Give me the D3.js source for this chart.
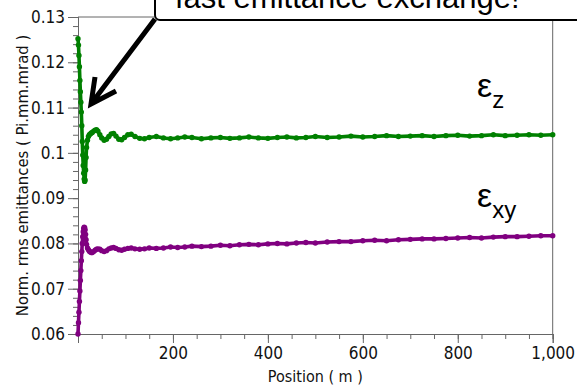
<!DOCTYPE html>
<html lang="en">
  <head>
    <meta charset="UTF-8">
    <title>Norm. rms emittances</title>
    <script src="https://d3js.org/d3.v7.min.js"></script>
    <style>
      body { margin: 0; background: #fff; }
      svg text { font-family: "DejaVu Sans Condensed", "Liberation Sans", sans-serif; }
    </style>
  </head>
  <body>

<script>
  // position along the linac (m)
  const positions = [
    0, 1, 2, 3, 4, 5, 6, 7, 8, 9, 10, 11, 12, 13, 14, 15, 16, 17, 18, 20,
    22, 24, 26, 28, 30, 33, 36, 39, 42, 46, 50, 55, 60, 65, 70, 75, 80, 86, 92, 98,
    105, 112, 120, 130, 140, 150, 165, 180, 195, 210, 225, 240, 260, 280, 300, 320, 340, 360, 380, 400,
    420, 440, 460, 480, 500, 525, 550, 575, 600, 625, 650, 675, 700, 725, 750, 775, 800, 825, 850, 875,
    900, 925, 950, 975, 1000
  ];

  // longitudinal emittance
  const emitZ = [
    0.1252, 0.1238, 0.1215, 0.1190, 0.1160, 0.1135, 0.1112, 0.1090, 0.1060, 0.1025,
    0.0995, 0.0972, 0.0955, 0.0942, 0.0937, 0.0940, 0.0962, 0.0990, 0.1012, 0.1028,
    0.1036, 0.1040, 0.1042, 0.1044, 0.1045, 0.1048, 0.1050, 0.1051, 0.1048, 0.1040,
    0.1033, 0.1028, 0.1030, 0.1036, 0.1042, 0.1043, 0.1037, 0.1030, 0.1029, 0.1034,
    0.1040, 0.1041, 0.1036, 0.1032, 0.1031, 0.1034, 0.1036, 0.1033, 0.1031, 0.1033,
    0.1035, 0.1034, 0.1031, 0.1033, 0.1034, 0.1032, 0.1033, 0.1035, 0.1033, 0.1032,
    0.1034, 0.1035, 0.1033, 0.1034, 0.1036, 0.1034, 0.1035, 0.1037, 0.1035, 0.1036,
    0.1038, 0.1036, 0.1037, 0.1038, 0.1036, 0.1038, 0.1039, 0.1037, 0.1038, 0.1040,
    0.1038, 0.1039, 0.1040, 0.1039, 0.1040
  ];

  // transverse emittance
  const emitXY = [
    0.0600, 0.0625, 0.0648, 0.0672, 0.0695, 0.0718, 0.0740, 0.0762, 0.0782, 0.0800,
    0.0815, 0.0826, 0.0833, 0.0836, 0.0835, 0.0830, 0.0820, 0.0808, 0.0798, 0.0790,
    0.0786, 0.0783, 0.0781, 0.0780, 0.0780, 0.0782, 0.0785, 0.0787, 0.0788, 0.0787,
    0.0784, 0.0782, 0.0784, 0.0788, 0.0790, 0.0791, 0.0789, 0.0786, 0.0785, 0.0787,
    0.0789, 0.0790, 0.0788, 0.0787, 0.0788, 0.0790, 0.0789, 0.0790, 0.0792, 0.0791,
    0.0792, 0.0794, 0.0793, 0.0794, 0.0796, 0.0795, 0.0797, 0.0798, 0.0797, 0.0799,
    0.0800, 0.0799, 0.0801, 0.0802, 0.0801, 0.0803, 0.0804, 0.0804, 0.0806, 0.0807,
    0.0806, 0.0808, 0.0809, 0.0810, 0.0810, 0.0811, 0.0812, 0.0813, 0.0812, 0.0814,
    0.0815, 0.0815, 0.0816, 0.0817, 0.0817
  ];

  const xTicks = [200, 400, 600, 800, 1000];
  const xTickLabels = ["200", "400", "600", "800", "1,000"];
  const yTicks = [0.06, 0.07, 0.08, 0.09, 0.10, 0.11, 0.12, 0.13];
  const yTickLabels = ["0.06", "0.07", "0.08", "0.09", "0.1", "0.11", "0.12", "0.13"];

  const w = 577;
  const h = 385;
  const plotLeft = 78, plotRight = 552.7, plotTop = 17, plotBottom = 334;
  const axisColor = "#666";

  const xScale = d3.scaleLinear().domain([0, 1000]).range([plotLeft, plotRight]);
  const yScale = d3.scaleLinear().domain([0.06, 0.13]).range([plotBottom, plotTop]);

  const svg = d3.select("body")
                .append("svg")
                .attr("width", w)
                .attr("height", h);

  // frame top and right
  svg.append("path")
     .attr("d", `M${plotLeft},${plotTop}H${plotRight}V${plotBottom}`)
     .attr("fill", "none")
     .attr("stroke", axisColor)
     .attr("stroke-width", 1);

  // minor ticks first, then the labelled axis on top
  const xMinor = d3.axisBottom(xScale).tickValues(d3.range(0, 1001, 50)).tickSize(5).tickFormat("");
  const yMinor = d3.axisLeft(yScale).tickValues(d3.range(0, 36).map(i => 0.06 + i * 0.002)).tickSize(5).tickFormat("");

  const xAxis = d3.axisBottom(xScale)
                  .tickValues([0].concat(xTicks))
                  .tickSize(9)
                  .tickPadding(4)
                  .tickFormat(d => d === 0 ? "" : xTickLabels[xTicks.indexOf(d)]);
  const yAxis = d3.axisLeft(yScale)
                  .tickValues(yTicks)
                  .tickSize(10)
                  .tickPadding(3)
                  .tickFormat((d, i) => yTickLabels[i]);

  [[xMinor, true], [xAxis, true], [yMinor, false], [yAxis, false]].forEach(([ax, isX]) => {
    const g = svg.append("g")
                 .attr("transform", isX ? `translate(0,${plotBottom})` : `translate(${plotLeft},0)`)
                 .call(ax);
    g.selectAll("path, line").attr("stroke", axisColor);
    g.selectAll("text").attr("fill", "#111").style("font-size", "17px");
  });

  svg.append("text")
     .attr("x", (plotLeft + plotRight) / 2)
     .attr("y", 382)
     .attr("text-anchor", "middle")
     .style("font-size", "16px")
     .attr("fill", "#111")
     .text("Position ( m )");

  svg.append("text")
     .attr("transform", `translate(28,${(plotTop + plotBottom) / 2}) rotate(-90)`)
     .attr("text-anchor", "middle")
     .style("font-size", "16.5px")
     .attr("fill", "#111")
     .text("Norm. rms emittances ( Pi.mm.mrad )");

  const series = [
    { values: emitZ, color: "#008000" },
    { values: emitXY, color: "#800080" }
  ];

  const line = d3.line()
                 .x(d => xScale(d[0]))
                 .y(d => yScale(d[1]));

  series.forEach(s => {
    const pts = positions.map((p, i) => [p, s.values[i]]);
    svg.append("path")
       .datum(pts)
       .attr("d", line)
       .attr("fill", "none")
       .attr("stroke", s.color)
       .attr("stroke-width", 3.6)
       .attr("stroke-linejoin", "round");
    svg.append("g")
       .selectAll("circle")
       .data(pts)
       .enter()
       .append("circle")
       .attr("cx", d => xScale(d[0]))
       .attr("cy", d => yScale(d[1]))
       .attr("r", 2.7)
       .attr("fill", s.color);
  });

  // labels for the two curves
  const labelFont = "Liberation Sans, Arial, sans-serif";
  [["z", 97], ["xy", 207]].forEach(([sub, y]) => {
    const t = svg.append("text")
                 .attr("x", 477)
                 .attr("y", y)
                 .style("font-family", labelFont)
                 .style("font-size", "34px")
                 .attr("fill", "#000");
    t.append("tspan").text("ε");
    t.append("tspan")
     .attr("dy", 11)
     .style("font-size", "24px")
     .text(sub);
  });

  // callout box with arrow
  svg.append("rect")
     .attr("x", 155)
     .attr("y", -20)
     .attr("width", 440)
     .attr("height", 40)
     .attr("rx", 5)
     .attr("fill", "#fff")
     .attr("stroke", "#000")
     .attr("stroke-width", 2);

  svg.append("text")
     .attr("x", 175)
     .attr("y", 8)
     .style("font-family", labelFont)
     .style("font-size", "31px")
     .attr("fill", "#000")
     .text("fast emittance exchange!");

  svg.append("path")
     .attr("d", "M155,19L91,104M95,77L91,104L116,91")
     .attr("fill", "none")
     .attr("stroke", "#000")
     .attr("stroke-width", 5)
     .attr("stroke-linejoin", "miter")
     .attr("stroke-linecap", "butt");
</script>

  </body>
</html>
